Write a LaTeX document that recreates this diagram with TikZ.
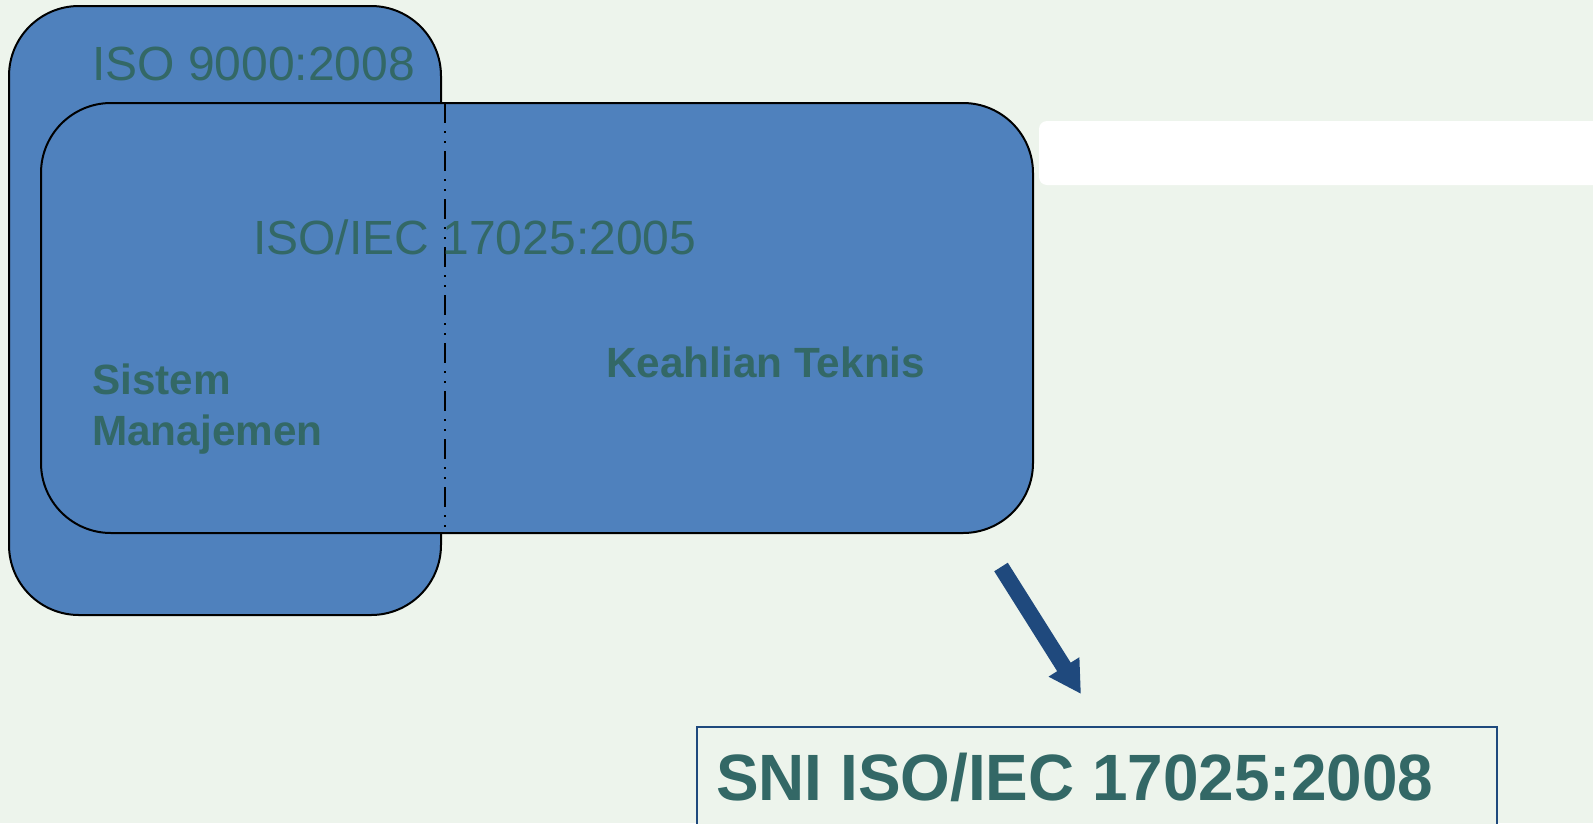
\documentclass[tikz,border=0pt]{standalone}
\usepackage{fontspec}
\setmainfont{Liberation Sans}
\usetikzlibrary{arrows.meta}

\definecolor{pagebg}{RGB}{237,244,236}
\definecolor{boxblue}{RGB}{79,129,189}
\definecolor{labelteal}{RGB}{51,104,102}
\definecolor{navy}{RGB}{31,73,125}

\tikzset{
  bigbox/.style={draw=black, line width=2pt, fill=boxblue, rounded corners=70pt,
                 anchor=north west, inner sep=0pt, outer sep=0pt},
  plainlabel/.style={text=labelteal, inner sep=0pt, anchor=base west,
                     font=\fontsize{48}{48}\selectfont},
  boldlabel/.style={text=labelteal, inner sep=0pt, anchor=base west,
                    font=\fontsize{42.3}{51}\selectfont\bfseries, align=left},
  divider/.style={line width=2.2pt, black,
                  dash pattern=on 20pt off 8pt on 2pt off 8pt on 2pt off 8pt},
  bigarrow/.style={line width=16pt, draw=navy,
                   -{Triangle[length=32pt,width=34pt]}},
  resultbox/.style={draw=navy, line width=2pt, fill=pagebg, anchor=north west,
                    inner sep=0pt, outer sep=0pt},
}

\begin{document}
\begin{tikzpicture}[x=1pt, y=-1pt]
  % canvas
  \path[use as bounding box, fill=pagebg] (0,0) rectangle (1593,823);
  \clip (0,0) rectangle (1593,823);

  % blank white banner running off the right edge
  \fill[white, rounded corners=8pt] (1039,121) rectangle (1640,185);

  % ISO 9000 frame and the overlapping ISO/IEC 17025 frame
  \node[bigbox, minimum width=432pt, minimum height=609pt] (iso9000) at (9,6) {};
  \node[bigbox, minimum width=992pt, minimum height=430pt] (iec17025) at (41,103) {};

  % boundary between management system and technical competence
  \coordinate (divtop) at (445,103);
  \coordinate (divbot) at (445,533);
  \draw[divider] (divtop) -- (divbot);

  \node[plainlabel] (l9000) at (92,80) {ISO 9000:2008};
  \node[plainlabel] (l17025) at (253,254) {ISO/IEC 17025:2005};
  \node[boldlabel] (lsistem) at (92,445) {Sistem\\Manajemen};
  \node[boldlabel] (lteknis) at (606,377) {Keahlian Teknis};

  % resulting national standard
  \node[resultbox, minimum width=800pt, minimum height=120pt] (sni) at (697,727) {};
  \node[text=labelteal, inner sep=0pt, anchor=base west,
        font=\fontsize{65.5}{66}\selectfont\bfseries] (lsni) at (716,800)
        {\scalebox{0.975}[1]{SNI ISO/IEC 17025:2008}};

  \coordinate (arrtail) at (1001,567);
  \coordinate (arrtip) at (1081,694);
  \draw[bigarrow] (arrtail) -- (arrtip);
\end{tikzpicture}
\end{document}
